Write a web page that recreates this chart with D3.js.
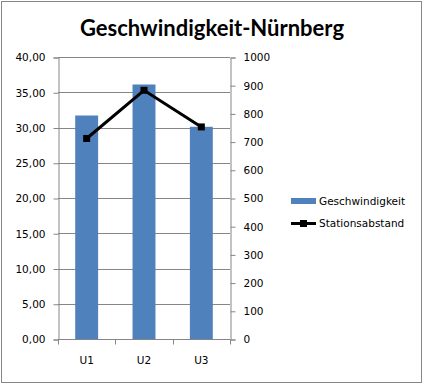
<!DOCTYPE html>
<html>
<head>
<meta charset="utf-8">
<script src="https://cdn.jsdelivr.net/npm/d3@7"></script>
<style>
body { margin: 0; background: #fff; }
</style>
</head>
<body>
<div id="vis"></div>
<script>
var categories = ['U1', 'U2', 'U3'];
var speed = [31.7, 36.1, 30.1];
var distance = [711, 882, 752];
var leftTicks = [0, 5, 10, 15, 20, 25, 30, 35, 40];
var rightTicks = [0, 100, 200, 300, 400, 500, 600, 700, 800, 900, 1000];

var width = 424, height = 385;
var margin = { top: 57, bottom: 46, left: 58, right: 194 };

var svg = d3.select('#vis')
    .append('svg')
    .attr('width', width)
    .attr('height', height);

svg.append('rect')
    .attr('x', 1.5).attr('y', 1.5)
    .attr('width', 420).attr('height', 381)
    .attr('fill', '#fff')
    .attr('stroke', '#868686');

svg.append('text')
    .attr('x', 212).attr('y', 36)
    .attr('text-anchor', 'middle')
    .style('font-family', 'Lato, sans-serif')
    .style('font-weight', 'bold')
    .style('font-size', '22px')
    .text('Geschwindigkeit-Nürnberg');

var x_scale = d3.scaleBand()
    .domain(categories)
    .range([margin.left, width - margin.right])
    .paddingInner(0.6)
    .paddingOuter(0.3);

var x_ticks = d3.scaleBand().domain(categories).range([margin.left, width - margin.right]);

var y_left = d3.scaleLinear().domain([0, 40]).range([height - margin.bottom, margin.top]);
var y_right = d3.scaleLinear().domain([0, 1000]).range([height - margin.bottom, margin.top]);

var g = svg.append('g');

// gridlines
g.selectAll('.grid')
    .data(leftTicks)
    .enter()
    .append('line')
    .attr('x1', margin.left)
    .attr('x2', width - margin.right)
    .attr('y1', function(d) { return Math.round(y_left(d)) + 0.5; })
    .attr('y2', function(d) { return Math.round(y_left(d)) + 0.5; })
    .attr('stroke', '#868686');

// bars
g.selectAll('.bar')
    .data(categories)
    .enter()
    .append('rect')
    .attr('x', function(d) { return x_scale(d); })
    .attr('width', x_scale.bandwidth())
    .attr('y', function(d, i) { return y_left(speed[i]); })
    .attr('height', function(d, i) { return y_left(0) - y_left(speed[i]); })
    .attr('fill', '#4f81bd');

var font = 'DejaVu Sans, Verdana, sans-serif';

var left_axis = d3.axisLeft(y_left).tickValues(leftTicks).tickSize(5).tickPadding(8)
    .tickFormat(function(d) { return d3.format('.2f')(d).replace('.', ','); });
var right_axis = d3.axisRight(y_right).tickValues(rightTicks).tickSize(5).tickPadding(8)
    .tickFormat(d3.format('d'));
var x_axis = d3.axisBottom(x_ticks).tickSize(0).tickPadding(17);

function styleAxis(sel) {
    sel.select('.domain').attr('stroke', '#868686');
    sel.selectAll('.tick line').attr('stroke', '#868686');
    sel.selectAll('text').style('font-family', font).style('font-size', '10.5px').attr('fill', '#000');
}

svg.append('g')
    .attr('transform', 'translate(' + (margin.left + 0.5) + ',0.5)')
    .call(left_axis)
    .call(styleAxis);

svg.append('g')
    .attr('transform', 'translate(' + (width - margin.right + 0.5) + ',0.5)')
    .call(right_axis)
    .call(styleAxis);

var xg = svg.append('g')
    .attr('transform', 'translate(0,' + (height - margin.bottom + 0.5) + ')')
    .call(x_axis)
    .call(styleAxis);
xg.select('.domain').attr('d', 'M' + margin.left + ',0H' + (width - margin.right));

// category tick marks at band edges
xg.selectAll('.edge')
    .data(categories.concat(['end']))
    .enter()
    .append('line')
    .attr('x1', function(d, i) { return Math.round(margin.left + i * x_ticks.bandwidth()) + 0.5; })
    .attr('x2', function(d, i) { return Math.round(margin.left + i * x_ticks.bandwidth()) + 0.5; })
    .attr('y1', 0).attr('y2', 5)
    .attr('stroke', '#868686');

// line series
var line = d3.line()
    .x(function(d, i) { return x_scale(categories[i]) + x_scale.bandwidth() / 2; })
    .y(function(d) { return y_right(d); });

g.append('path')
    .datum(distance)
    .attr('d', line)
    .attr('fill', 'none')
    .attr('stroke', '#000')
    .attr('stroke-width', 3);

g.selectAll('.marker')
    .data(distance)
    .enter()
    .append('rect')
    .attr('x', function(d, i) { return x_scale(categories[i]) + x_scale.bandwidth() / 2 - 3.5; })
    .attr('y', function(d) { return y_right(d) - 3.5; })
    .attr('width', 7).attr('height', 7)
    .attr('fill', '#000');

// legend
var legend = svg.append('g').attr('transform', 'translate(291,0)');
legend.append('rect')
    .attr('x', 0).attr('y', 198).attr('width', 25).attr('height', 6)
    .attr('fill', '#4f81bd');
legend.append('text')
    .attr('x', 28).attr('y', 205)
    .style('font-family', font).style('font-size', '10.5px')
    .text('Geschwindigkeit');
legend.append('line')
    .attr('x1', 0).attr('x2', 25).attr('y1', 223.5).attr('y2', 223.5)
    .attr('stroke', '#000').attr('stroke-width', 3);
legend.append('rect')
    .attr('x', 9).attr('y', 220).attr('width', 7).attr('height', 7)
    .attr('fill', '#000');
legend.append('text')
    .attr('x', 28).attr('y', 227)
    .style('font-family', font).style('font-size', '10.5px')
    .text('Stationsabstand');
</script>
</body>
</html>
